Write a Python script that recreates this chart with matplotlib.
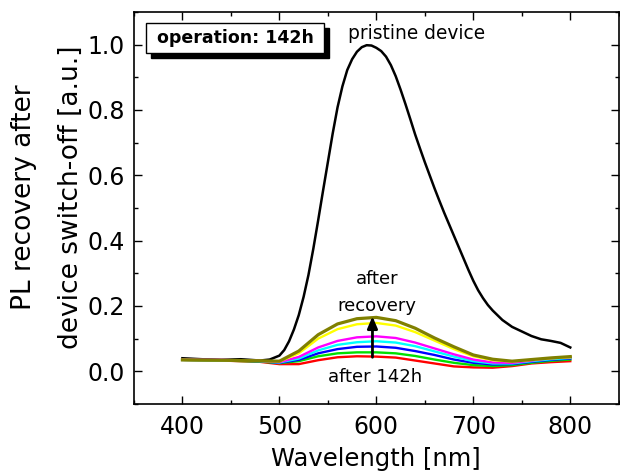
import numpy as np
import matplotlib
matplotlib.use("Agg")
import matplotlib.pyplot as plt
from matplotlib.patches import Rectangle
from matplotlib.ticker import MultipleLocator

# pristine device spectrum
wl_pristine = [400, 420, 440, 460, 480, 490, 500, 505, 510, 515, 520, 525, 530,
               535, 540, 545, 550, 555, 560, 565, 570, 575, 580, 585, 590, 595,
               600, 605, 610, 615, 620, 625, 630, 635, 640, 645, 650, 655, 660,
               665, 670, 675, 680, 685, 690, 695, 700, 705, 710, 715, 720, 730,
               740, 750, 760, 770, 780, 790, 800]
pl_pristine = [0.040, 0.037, 0.035, 0.037, 0.033, 0.036, 0.048, 0.065, 0.092,
               0.128, 0.172, 0.228, 0.295, 0.375, 0.462, 0.552, 0.640, 0.728,
               0.808, 0.872, 0.922, 0.955, 0.978, 0.992, 0.998, 0.997, 0.990,
               0.980, 0.963, 0.937, 0.903, 0.862, 0.818, 0.772, 0.725, 0.682,
               0.640, 0.600, 0.560, 0.522, 0.485, 0.450, 0.415, 0.380, 0.345,
               0.310, 0.277, 0.248, 0.224, 0.203, 0.186, 0.157, 0.136, 0.122,
               0.108, 0.098, 0.093, 0.087, 0.073]

# recovery spectra (after 142h -> after recovery)
wl_rec = [400, 440, 480, 500, 520, 540, 560, 580, 600, 620, 640, 660, 680,
          700, 720, 740, 760, 780, 800]
pl_red = [0.035, 0.033, 0.029, 0.022, 0.022, 0.034, 0.043, 0.046, 0.045, 0.042,
          0.033, 0.024, 0.015, 0.012, 0.011, 0.016, 0.024, 0.028, 0.031]
pl_green = [0.035, 0.033, 0.030, 0.025, 0.031, 0.046, 0.055, 0.058, 0.058, 0.055,
            0.047, 0.036, 0.026, 0.019, 0.016, 0.019, 0.026, 0.032, 0.036]
pl_blue = [0.035, 0.034, 0.031, 0.026, 0.035, 0.055, 0.068, 0.075, 0.076, 0.072,
           0.062, 0.050, 0.036, 0.026, 0.021, 0.022, 0.029, 0.035, 0.039]
pl_cyan = [0.035, 0.034, 0.031, 0.027, 0.039, 0.064, 0.081, 0.089, 0.092, 0.088,
           0.077, 0.061, 0.045, 0.031, 0.024, 0.024, 0.031, 0.037, 0.041]
pl_magenta = [0.036, 0.035, 0.032, 0.028, 0.044, 0.073, 0.093, 0.104, 0.107, 0.102,
              0.088, 0.070, 0.052, 0.036, 0.027, 0.026, 0.033, 0.040, 0.043]
pl_yellow = [0.035, 0.034, 0.032, 0.030, 0.055, 0.100, 0.129, 0.144, 0.148, 0.140,
             0.120, 0.094, 0.068, 0.046, 0.034, 0.030, 0.035, 0.040, 0.043]
pl_olive = [0.035, 0.034, 0.032, 0.031, 0.062, 0.112, 0.145, 0.161, 0.165, 0.155,
            0.132, 0.102, 0.075, 0.050, 0.037, 0.031, 0.036, 0.041, 0.045]

rec_series = [pl_red, pl_green, pl_blue, pl_cyan, pl_magenta, pl_yellow, pl_olive]
rec_colors = ['#ff0000', '#00e000', '#0000ff', '#00ffff', '#ff00ff', '#ffff00', '#808000']

fig = plt.figure(figsize=(6.2, 4.75), dpi=100)
ax = fig.add_axes([0.216, 0.1495, 0.782, 0.8255])

ax.plot(wl_pristine, pl_pristine, color='black', lw=1.8)
for vals, c in zip(rec_series, rec_colors):
    ax.plot(wl_rec, vals, color=c, lw=2.3 if c == '#808000' else 1.7)

ax.set_xlim(350, 850)
ax.set_ylim(-0.1, 1.1)
ax.xaxis.set_major_locator(MultipleLocator(100))
ax.xaxis.set_minor_locator(MultipleLocator(50))
ax.yaxis.set_major_locator(MultipleLocator(0.2))
ax.yaxis.set_minor_locator(MultipleLocator(0.1))
ax.yaxis.set_major_formatter(matplotlib.ticker.FormatStrFormatter('%.1f'))
ax.tick_params(which='both', direction='in', top=True, right=True, width=1.0)
ax.tick_params(which='major', length=5.5, labelsize=17)
ax.tick_params(which='minor', length=3)
ax.tick_params(axis='x', pad=8)
ax.tick_params(axis='y', pad=6.5)
for s in ax.spines.values():
    s.set_linewidth(1.2)

ax.set_xlabel('Wavelength [nm]', fontsize=17.5, labelpad=6)
fig.text(0.077, 0.585, 'PL recovery after\ndevice switch-off [a.u.]',
         rotation=90, ha='center', va='center', multialignment='center',
         fontsize=19, linespacing=2.05)

# boxed label with shadow
ax.add_patch(Rectangle((0.0350, 0.8822), 0.3673, 0.0773, transform=ax.transAxes,
                       facecolor='black', edgecolor='black', zorder=5))
ax.add_patch(Rectangle((0.0247, 0.8950), 0.3673, 0.0773, transform=ax.transAxes,
                       facecolor='white', edgecolor='black', lw=1.0, zorder=6))
ax.text(0.2084, 0.9336, 'operation: 142h', transform=ax.transAxes, ha='center',
        va='center', fontsize=12.5, fontweight='bold', zorder=7)

ax.text(641, 1.035, 'pristine device', ha='center', va='center', fontsize=13.4)
ax.text(601, 0.241, 'after\nrecovery', ha='center', va='center', fontsize=13,
        linespacing=1.65)
ax.text(599, -0.018, 'after 142h', ha='center', va='center', fontsize=13)
ax.annotate('', xy=(596, 0.168), xytext=(596, 0.043),
            arrowprops=dict(arrowstyle='-|>,head_length=0.7,head_width=0.3',
                            color='black', lw=2.0, shrinkA=0, shrinkB=0))

fig.savefig('out.png', dpi=100)
